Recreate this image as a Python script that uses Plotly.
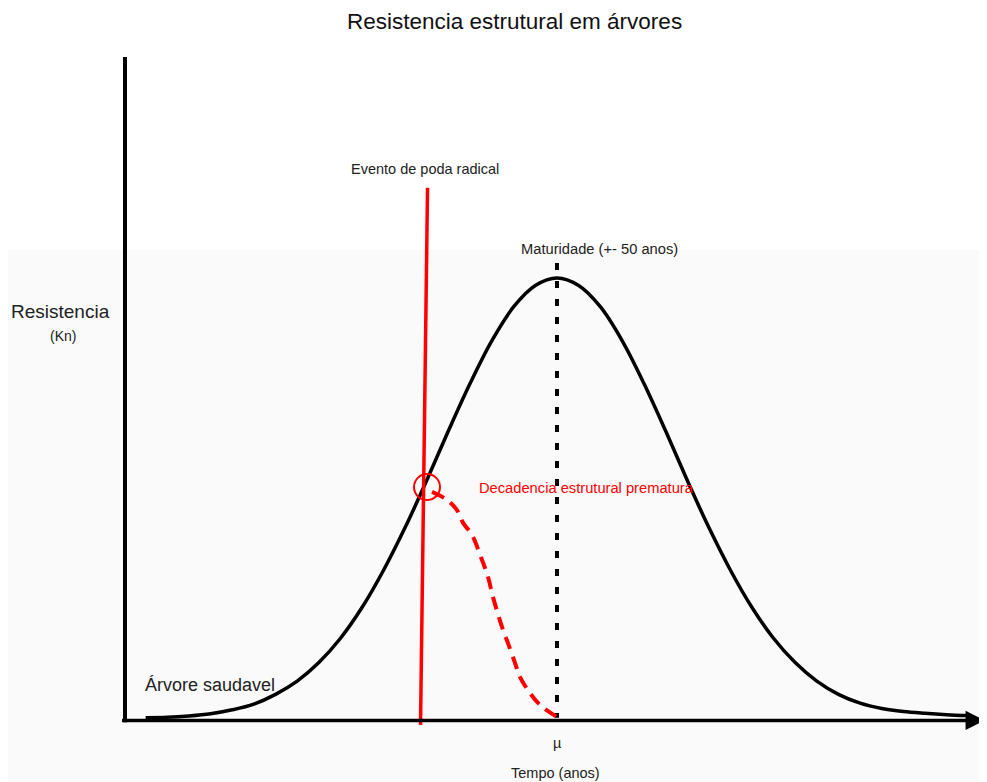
import plotly.graph_objects as go

# ---- data ----
anos = [2.5, 5, 7.5, 10, 12.5, 15, 17.5, 20, 22.5, 25, 27.5, 30, 32.5, 35, 37.5,
        40, 42.5, 45, 47.5, 50, 52.5, 55, 57.5, 60, 62.5, 65, 67.5, 70, 72.5,
        75, 77.5, 80, 82.5, 85, 87.5, 90, 92.5, 95, 97.5]
resistencia = [0.5, 0.6, 0.9, 1.4, 2.3, 3.6, 5.8, 8.8, 13.0, 18.5, 25.5, 34, 43.7,
               54.4, 65.6, 76.3, 85.9, 93.5, 98.3, 100, 98.3, 93.5, 85.9, 76.3,
               65.6, 54.4, 43.7, 34, 25.5, 18.5, 13.0, 8.8, 5.8, 3.8, 2.6, 1.9,
               1.5, 1.2, 1.0]

decad_anos = [35.57, 37.3, 38.45, 39.15, 40.18, 41.34, 42.03, 42.61, 43.76,
              44.34, 45.15, 45.73, 46.88, 48.04, 50.0]
decad_resist = [51.6, 49.8, 47.5, 44.6, 41.9, 36.2, 32.4, 27.8, 20.4,
                17.4, 12.9, 9.7, 6.1, 3.4, 0.7]

poda_anos = [35.05, 34.24]
poda_resist = [120.4, -1.1]

maturidade_anos = [50, 50]
maturidade_resist = [103.4, 0.5]

# page offset of the plot div (default body margin)
OFF = 8
W, H = 987 - OFF, 782 - OFF
PX_PER_ANO = 8.66
PX_PER_KN = 4.42
X0_PX, Y0_PX = 124 - OFF, 720 - OFF
xr = [-X0_PX / PX_PER_ANO, (W - X0_PX) / PX_PER_ANO]
yr = [-(H - Y0_PX) / PX_PER_KN, Y0_PX / PX_PER_KN]

fig = go.Figure()

fig.add_trace(go.Scatter(x=anos, y=resistencia, mode="lines",
                         line=dict(color="black", width=3.5, shape="spline"),
                         hoverinfo="skip", showlegend=False))
fig.add_trace(go.Scatter(x=maturidade_anos, y=maturidade_resist, mode="lines",
                         line=dict(color="black", width=4, dash="7px,11px"),
                         hoverinfo="skip", showlegend=False))
fig.add_trace(go.Scatter(x=decad_anos, y=decad_resist, mode="lines",
                         line=dict(color="#ff0000", width=4, dash="13px,8px", shape="spline"),
                         hoverinfo="skip", showlegend=False))
fig.add_trace(go.Scatter(x=poda_anos, y=poda_resist, mode="lines",
                         line=dict(color="#ff0000", width=3.5),
                         hoverinfo="skip", showlegend=False))

# faint grey backdrop of the lower part
fig.add_shape(type="rect", xref="paper", yref="paper", x0=0, x1=1, y0=0,
              y1=1 - (250 - OFF) / H, fillcolor="#fafafa", line=dict(width=0), layer="below")

# y axis line
fig.add_shape(type="line", x0=0.115, x1=0.115, y0=150, y1=-0.5,
              line=dict(color="black", width=4))
# x axis with arrow
fig.add_annotation(x=99.4, y=-0.1, ax=-0.4, ay=-0.1, xref="x", yref="y",
                   axref="x", ayref="y", text="", showarrow=True,
                   arrowhead=2, arrowsize=1.1, arrowwidth=3.5, arrowcolor="black")

# red circle at the pruning point
fig.add_shape(type="circle", x0=33.49, x1=36.49, y0=49.76, y1=55.64,
              line=dict(color="#ff0000", width=2))

font = "Liberation Sans, Arial, sans-serif"


def label(txt, px, py, size, color="#222222"):
    fig.add_annotation(x=(px - OFF) / W, y=1 - (py - OFF) / H, xref="paper", yref="paper",
                       text=txt, showarrow=False, xanchor="center",
                       yanchor="middle", font=dict(family=font, size=size, color=color))


label("Resistencia estrutural em árvores", 515, 22, 22.5, "#111111")
label("Resistencia", 60, 312, 19)
label("(Kn)", 63, 336, 14)
label("Evento de poda radical", 425, 169, 14.5)
label("Maturidade (+- 50 anos)", 599, 249, 14.7)
label("Decadencia estrutural prematura", 586, 488, 14.7, "#ff0000")
label("Árvore saudavel", 210, 685, 18)
label("µ", 557, 743, 14.5)
label("Tempo (anos)", 555, 773, 14.5)

fig.update_layout(
    width=W, height=H, margin=dict(l=0, r=0, t=0, b=0),
    paper_bgcolor="white", plot_bgcolor="rgba(0,0,0,0)",
    xaxis=dict(range=xr, visible=False, fixedrange=True),
    yaxis=dict(range=yr, visible=False, fixedrange=True),
    showlegend=False,
)

fig.write_html("out.html")
